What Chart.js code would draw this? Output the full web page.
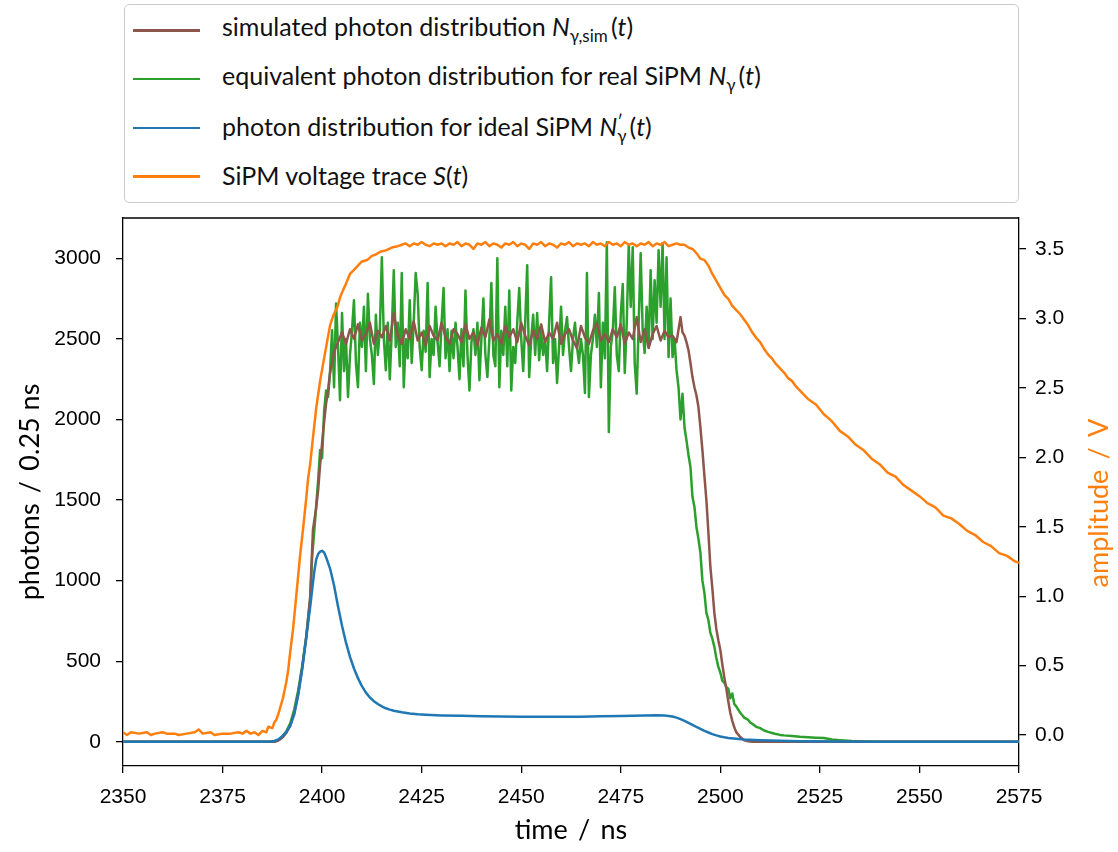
<!DOCTYPE html>
<html>
<head>
<meta charset="utf-8">
<script src="https://cdn.jsdelivr.net/npm/chart.js@4.4.0/dist/chart.umd.min.js"></script>
<style>
  html, body { margin: 0; padding: 0; background: #fff; }
  #wrap { position: relative; width: 1118px; height: 852px; }
  #legend {
    position: absolute; left: 124px; top: 4px; width: 895px; height: 199px;
    box-sizing: border-box; border: 1px solid #cccccc; border-radius: 5px;
    background: #fff; font-family: Lato, sans-serif; font-size: 25px; color: #111;
  }
  .row { position: absolute; left: 0; right: 0; height: 0; }
  .swatch { position: absolute; left: 8px; width: 67px; height: 2.5px; top: -1px; }
  .lbl { position: absolute; left: 97px; top: 0; transform: translateY(-55%); white-space: nowrap; }
  .lbl i { font-style: italic; }
  .lbl sub { font-size: 0.68em; vertical-align: -0.35em; }
  .ss { display: inline-block; vertical-align: -0.35em; line-height: 0.8em; font-size: 0.68em; }
  .ss span { display: block; }
</style>
</head>
<body>
<div id="wrap">
  <canvas id="myChart" width="1118" height="852"></canvas>
  <div id="legend"></div>
</div>
<script>
// tick labels
const xTicks = [2350, 2375, 2400, 2425, 2450, 2475, 2500, 2525, 2550, 2575];
const photonTicks = [0, 500, 1000, 1500, 2000, 2500, 3000];
const voltTicks = [0, 0.5, 1, 1.5, 2, 2.5, 3, 3.5];

const seriesNames = [
  "simulated photon distribution N_γ,sim(t)",
  "equivalent photon distribution for real SiPM N_γ(t)",
  "photon distribution for ideal SiPM N'_γ(t)",
  "SiPM voltage trace S(t)"
];
const legendHtml = [
  'simulated photon distribution <i>N</i><sub>γ,sim</sub>&thinsp;(<i>t</i>)',
  'equivalent photon distribution for real SiPM <i>N</i><sub>γ</sub>&thinsp;(<i>t</i>)',
  'photon distribution for ideal SiPM <i>N</i><span class="ss"><span>′</span><span>γ</span></span>&thinsp;(<i>t</i>)',
  'SiPM voltage trace <i>S</i>(<i>t</i>)'
];
const colors = ["#8c564b", "#2ca02c", "#1f77b4", "#ff7f0e"];

// simulated photons (brown): edges as [t, photons], plateau in 1 ns bins
const simRise = [[2350,0],[2388,0],[2389,8],[2390,25],[2391,55],[2392,100],[2393,180],[2394,300],
  [2395,460],[2396,650],[2397,900],[2397.7,1314],[2398.5,1450],[2399,1560],[2399.5,1720],
  [2400.3,1934],[2401,2100],[2401.5,2180],[2402,2290],[2402.5,2350],[2403,2420],[2403.5,2450]];
const simStart = 2404, simStep = 1;
const simPlateau = [
  2480, 2540, 2470, 2560, 2500, 2590, 2490, 2530, 2600, 2470,
  2550, 2510, 2580, 2490, 2660, 2520, 2470, 2560, 2500, 2610,
  2490, 2540, 2460, 2580, 2520, 2490, 2600, 2510, 2470, 2560,
  2530, 2480, 2590, 2500, 2540, 2460, 2570, 2510, 2620, 2490,
  2530, 2470, 2580, 2510, 2560, 2480, 2600, 2520, 2460, 2550,
  2500, 2590, 2480, 2540, 2500, 2600, 2470, 2530, 2560, 2490,
  2443, 2580, 2510, 2470, 2550, 2600, 2490, 2530, 2480, 2560,
  2510, 2590, 2470, 2540, 2500, 2635, 2480, 2560, 2443, 2530,
  2580, 2490, 2550, 2510, 2520, 2480];
const simFall = [[2490,2635],[2490.5,2540],[2491,2520],[2491.5,2480],[2492,2430],[2492.5,2350],
  [2493,2263],[2493.5,2200],[2494,2150],[2494.5,2077],[2495,1950],[2495.5,1810],[2496,1650],
  [2496.5,1500],[2497,1300],[2497.5,1085],[2498,950],[2498.5,800],[2499,700],[2499.5,630],
  [2500,570],[2500.5,480],[2501,400],[2501.5,330],[2502,250],[2502.5,180],[2503,130],
  [2503.5,90],[2504,60],[2505,30],[2506,10],[2507,3],[2508,0],[2575,0]];

// equivalent photons for real SiPM (green): plateau in 0.5 ns bins
const realRise = [[2350,0],[2388,0],[2389,10],[2390,30],[2391,65],[2392,115],[2393,200],[2394,320],
  [2395,470],[2396,650],[2397,880],[2397.5,1150],[2398,1300],[2398.5,1460],[2399,1620],
  [2399.5,1810],[2400,1760],[2400.5,2050],[2401,2180],[2401.5,2140]];
const realStart = 2402, realStep = 0.5;
const realPlateau = [
  2300, 2554, 2200, 2720, 2450, 2120, 2660, 2300, 2500, 2140,
  2400, 2550, 2740, 2350, 2200, 2600, 2450, 2700, 2300, 2780,
  2500, 2400, 2220, 2650, 2400, 2560, 3007, 2500, 2306, 2600,
  2250, 2550, 2926, 2450, 2600, 2330, 2908, 2200, 2500, 2380,
  2740, 2350, 2600, 2908, 2780, 2450, 2306, 2550, 2420, 2846,
  2263, 2500, 2400, 2700, 2480, 2330, 2600, 2815, 2380, 2560,
  2300, 2550, 2380, 2600, 2450, 2250, 2560, 2330, 2800, 2400,
  2180, 2480, 2560, 2400, 2600, 2244, 2500, 2750, 2400, 2263,
  2500, 2846, 2400, 2330, 3000, 2200, 2550, 2400, 2700, 2330,
  2800, 2180, 2450, 2350, 2600, 2815, 2500, 2300, 2600, 2957,
  2263, 2500, 2650, 2400, 2660, 2368, 2550, 2400, 2500, 2300,
  2600, 2883, 2350, 2500, 2226, 2450, 2700, 2400, 2550, 2635,
  2450, 2300, 2500, 2600, 2450, 2350, 2500, 2400, 2164, 2908,
  2140, 2400, 2500, 2650, 2450, 2784, 2200, 2600, 2380, 3100,
  1922, 2450, 2550, 2821, 2400, 2300, 2650, 2840, 2288, 2600,
  3081, 2700, 3069, 2350, 2160, 2600, 3032, 2550, 2412, 2700,
  2450, 2926, 2500, 2864, 2600, 3050, 2700, 3094, 2500, 3007,
  2387, 2750, 2387, 2500, 2306, 2200];
const realFall = [[2490,2000],[2490.5,2160],[2491,1950],[2491.5,1870],[2492,1780],[2492.5,1705],
  [2493,1520],[2493.5,1457],[2494,1333],[2494.5,1260],[2495,1172],[2495.5,1000],[2496,924],
  [2496.5,800],[2497,756],[2497.5,676],[2498,640],[2498.5,589],[2499,520],[2499.5,465],
  [2500,430],[2500.5,380],[2501,366],[2501.5,340],[2502,330],[2502.5,270],[2503,300],
  [2503.5,235],[2504,220],[2504.5,200],[2505,180],[2505.5,165],[2506,150],[2507,136],
  [2507.5,120],[2508,112],[2509,93],[2510,85],[2511,70],[2512,62],[2513,55],[2514,48],
  [2515,43],[2516,40],[2518,36],[2520,31],[2522,28],[2524,26],[2526,24],[2528,14],
  [2530,10],[2533,5],[2536,2],[2540,0],[2575,0]];

// ideal SiPM photons (blue)
const ideal = [[2350,0],[2385,0],[2387,2],[2388,5],[2389,15],[2390,35],[2391,60],[2392,100],
  [2393,170],[2394,290],[2395,450],[2396,640],[2397,837],[2398,1050],[2398.5,1130],[2399,1165],
  [2399.5,1180],[2400,1185],[2400.5,1175],[2401,1145],[2401.5,1110],[2402,1075],[2403,970],
  [2404,840],[2405,720],[2406,615],[2407,527],[2408,455],[2409,395],[2410,345],[2411,305],
  [2412,275],[2413,252],[2414,235],[2415,220],[2416,208],[2417,200],[2418,193],[2420,183],
  [2422,176],[2424,171],[2426,168],[2430,164],[2435,161],[2440,159],[2445,157],[2450,156],
  [2455,155],[2460,155],[2465,156],[2470,158],[2475,160],[2478,162],[2481,164],[2484,165],
  [2486,163],[2488,157],[2489,150],[2490,141],[2491,130],[2492,118],[2493,105],[2494,92],
  [2495,80],[2496,68],[2497,58],[2498,48],[2499,40],[2500,33],[2501,28],[2502,24],[2504,19],
  [2506,15],[2510,10],[2515,6],[2520,4],[2530,2],[2540,1],[2575,0]];

// SiPM voltage trace (orange), volts
const voltRise = [[2350,0.02],[2351,0.0],[2352,0.02],[2354,0.01],[2356,0.02],[2357,0.0],
  [2358,0.01],[2360,0.02],[2361,0.01],[2363,0.01],[2364,0.0],[2366,0.01],[2368,0.02],
  [2369,0.04],[2370,0.01],[2372,0.02],[2373,0.0],[2375,0.01],[2377,0.01],[2379,0.02],
  [2380,0.01],[2381,0.03],[2382,0.01],[2383,0.02],[2384,0.0],[2385,0.03],[2386,0.02],
  [2386.5,0.06],[2387.5,0.05],[2388,0.09],[2388.5,0.11],[2389,0.15],[2389.5,0.2],[2390.2,0.27],
  [2391,0.38],[2391.5,0.47],[2392,0.6],[2392.7,0.76],[2393.5,1.0],[2394,1.15],[2394.5,1.3],
  [2395.2,1.48],[2396,1.7],[2396.5,1.85],[2397,1.95],[2397.7,2.14],[2398.5,2.35],[2399,2.45],
  [2399.5,2.55],[2400.3,2.68],[2401.3,2.84],[2402,2.95],[2402.8,3.02],[2403.8,3.08],
  [2404.5,3.15],[2405.2,3.2],[2406,3.25],[2407,3.32],[2408,3.35],[2409,3.38],[2410,3.41],
  [2411.3,3.42],[2412.5,3.45],[2413.5,3.46],[2414.6,3.48],[2416,3.49],[2417.5,3.51],[2419,3.52]];
const voltStart = 2420, voltStep = 1;
const voltPlateau = [
  3.53, 3.54, 3.52, 3.54, 3.53, 3.55, 3.53, 3.52, 3.54, 3.53,
  3.54, 3.52, 3.54, 3.53, 3.55, 3.52, 3.54, 3.53, 3.50, 3.54,
  3.53, 3.55, 3.52, 3.54, 3.53, 3.51, 3.54, 3.53, 3.55, 3.52,
  3.54, 3.53, 3.50, 3.54, 3.53, 3.55, 3.52, 3.54, 3.53, 3.51,
  3.54, 3.53, 3.55, 3.52, 3.54, 3.53, 3.54, 3.52, 3.55, 3.53,
  3.54, 3.52, 3.55, 3.53, 3.54, 3.52, 3.55, 3.53, 3.54, 3.52,
  3.54, 3.53, 3.55, 3.52, 3.54, 3.53, 3.55, 3.52, 3.53, 3.54,
  3.53];
const voltFall = [[2491,3.53],[2492,3.51],[2493,3.50],[2494,3.47],[2495,3.43],[2496,3.42],
  [2497,3.38],[2498,3.32],[2499,3.27],[2500,3.22],[2501,3.17],[2502,3.14],[2503,3.09],
  [2504,3.06],[2505,3.03],[2506,2.99],[2507,2.95],[2508,2.90],[2509,2.86],[2510,2.83],
  [2511,2.78],[2512,2.74],[2513,2.71],[2514,2.67],[2515,2.64],[2516,2.61],[2517,2.57],
  [2518,2.55],[2519,2.51],[2520,2.48],[2522,2.42],[2524,2.38],[2526,2.31],[2528,2.26],
  [2530,2.19],[2532,2.15],[2534,2.09],[2536,2.05],[2538,1.99],[2540,1.95],[2542,1.89],
  [2544,1.86],[2546,1.80],[2548,1.76],[2550,1.72],[2552,1.67],[2554,1.64],[2556,1.58],
  [2558,1.56],[2560,1.52],[2562,1.47],[2564,1.44],[2566,1.39],[2568,1.36],[2570,1.31],
  [2572,1.29],[2574,1.25],[2575,1.24]];

let pairs = (arr) => arr.map(p => ({ x: p[0], y: p[1] }));
let bins = (start, step, vals) => vals.map((v, i) => ({ x: start + i * step, y: v }));

const brownPts = [...pairs(simRise), ...bins(simStart, simStep, simPlateau), ...pairs(simFall)];
const greenPts = [...pairs(realRise), ...bins(realStart, realStep, realPlateau), ...pairs(realFall)];
const bluePts = pairs(ideal);
const orangePts = [...pairs(voltRise), ...bins(voltStart, voltStep, voltPlateau), ...pairs(voltFall)];

// legend (html, for the math text)
const legendEl = document.getElementById("legend");
legendHtml.forEach((h, i) => {
  const row = document.createElement("div");
  row.className = "row";
  row.style.top = (25 + i * 48.8) + "px";
  row.innerHTML = '<div class="swatch" style="background:' + colors[i] + '"></div><div class="lbl">' + h + '</div>';
  legendEl.appendChild(row);
});

const titleFont = { family: "Lato", size: 27 };
const sep = " \u2009/\u2009 ";

// top spine + right-hand axis title (reads bottom to top like matplotlib)
const frame = {
  id: "frame",
  afterDraw(c) {
    const a = c.chartArea, g = c.ctx;
    g.save();
    g.strokeStyle = "#000";
    g.lineWidth = 1.3;
    g.beginPath();
    g.moveTo(a.left, a.top);
    g.lineTo(a.right, a.top);
    g.stroke();
    g.translate(1099, (a.top + a.bottom) / 2 + 11);
    g.rotate(-Math.PI / 2);
    g.font = titleFont.size + "px " + titleFont.family;
    g.fillStyle = "#ff7f0e";
    g.textAlign = "center";
    g.textBaseline = "middle";
    g.fillText("amplitude" + sep + "V", 0, 0);
    g.restore();
  }
};

const tickFont = { family: "Liberation Sans", size: 21 };
const axisGrid = { display: true, drawOnChartArea: false, drawTicks: true, tickLength: 7, color: "#000", lineWidth: 1.3 };
const axisBorder = { display: true, color: "#000", width: 1.3 };

const ctx = document.getElementById("myChart");
const chart = new Chart(ctx, {
  type: "line",
  data: {
    datasets: [
      { label: seriesNames[0], data: brownPts, borderColor: colors[0], yAxisID: "y", order: 2 },
      { label: seriesNames[1], data: greenPts, borderColor: colors[1], yAxisID: "y", order: 3 },
      { label: seriesNames[2], data: bluePts, borderColor: colors[2], yAxisID: "y", order: 1 },
      { label: seriesNames[3], data: orangePts, borderColor: colors[3], yAxisID: "y1", order: 0 },
    ],
  },
  options: {
    responsive: false,
    animation: false,
    devicePixelRatio: 1,
    layout: { padding: { top: 218, left: 0, right: 0, bottom: 0 } },
    elements: {
      point: { radius: 0 },
      line: { borderWidth: 2.5, tension: 0, borderJoinStyle: "round", fill: false },
    },
    plugins: { legend: { display: false }, tooltip: { enabled: false } },
    scales: {
      x: {
        type: "linear", min: 2350, max: 2575,
        afterBuildTicks: (s) => { s.ticks = xTicks.map(v => ({ value: v })); },
        afterFit: (s) => { s.height = 86; },
        grid: axisGrid, border: axisBorder,
        ticks: { color: "#000", font: tickFont, padding: 12, maxRotation: 0, autoSkip: false, callback: (v) => String(v) },
        title: { display: true, text: "time" + sep + "ns", color: "#000", font: titleFont, padding: { top: 0, bottom: 6 } },
      },
      y: {
        type: "linear", position: "left", min: -150, max: 3250,
        afterBuildTicks: (s) => { s.ticks = photonTicks.map(v => ({ value: v })); },
        afterFit: (s) => { s.width = 123; },
        grid: axisGrid, border: axisBorder,
        ticks: { color: "#000", font: tickFont, padding: 15, autoSkip: false, callback: (v) => String(v) },
        title: { display: true, text: "photons" + sep + "0.25 ns", color: "#000", font: titleFont, padding: { top: 14, bottom: 0 } },
      },
      y1: {
        type: "linear", position: "right", min: -0.223, max: 3.723,
        afterBuildTicks: (s) => { s.ticks = voltTicks.map(v => ({ value: v })); },
        afterFit: (s) => { s.width = 99; },
        grid: axisGrid, border: axisBorder,
        ticks: { color: "#000", font: tickFont, padding: 9, autoSkip: false, callback: (v) => v.toFixed(1) },
        title: { display: false },
      },
    },
  },
  plugins: [frame],
});
</script>
</body>
</html>
